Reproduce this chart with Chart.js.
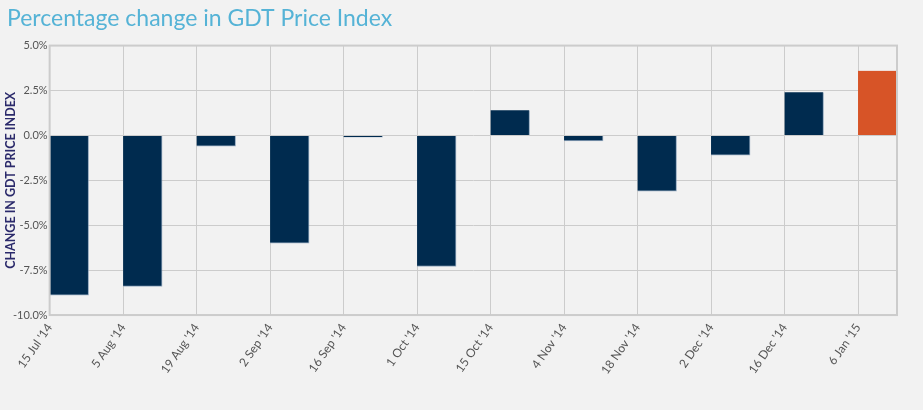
<!DOCTYPE html>
<html>
<head>
<meta charset="utf-8">
<script src="https://cdn.jsdelivr.net/npm/chart.js@4"></script>
<style>
  html, body { margin: 0; padding: 0; background: #f2f2f2; }
  #wrap { width: 923px; height: 410px; }
</style>
</head>
<body>
<div id="wrap"><canvas id="gdtChart" width="923" height="410"></canvas></div>
<script>
// GDT auction dates
var dates = ["15 Jul '14", "5 Aug '14", "19 Aug '14", "2 Sep '14", "16 Sep '14", "1 Oct '14",
             "15 Oct '14", "4 Nov '14", "18 Nov '14", "2 Dec '14", "16 Dec '14", "6 Jan '15"];
// % change in price index
var changes = [-8.9, -8.4, -0.6, -6.0, -0.1, -7.3, 1.4, -0.3, -3.1, -1.1, 2.4, 3.6];
var yTicks = [-10, -7.5, -5, -2.5, 0, 2.5, 5];

var navy = '#002b4f';
var orange = '#d75427';
var barShift = 0.265; // bars sit right of the grid line

var points = changes.map(function(v, i) { return { x: i + barShift, y: v }; });
var colors = changes.map(function(v, i) { return i === changes.length - 1 ? orange : navy; });

// frame around plot area
var frame = {
    id: 'frame',
    afterDatasetsDraw: function(chart) {
        var a = chart.chartArea;
        var c = chart.ctx;
        c.save();
        c.strokeStyle = '#cccccc';
        c.lineWidth = 2;
        c.strokeRect(a.left, a.top, a.right - a.left, a.bottom - a.top);
        c.restore();
    }
};

var ctx = document.getElementById('gdtChart').getContext('2d');
var chart = new Chart(ctx, {
    type: 'bar',
    data: {
        datasets: [{
            data: points,
            backgroundColor: colors,
            borderColor: 'rgba(110,140,170,0.7)',
            borderWidth: { right: 1, bottom: 1, top: 0, left: 0 },
            barThickness: 39
        }]
    },
    plugins: [frame],
    options: {
        responsive: false,
        animation: false,
        events: [],
        layout: { padding: { left: 7, right: 26, top: 0, bottom: 27 } },
        scales: {
            x: {
                type: 'linear',
                min: 0,
                max: 11.53,
                offset: false,
                afterBuildTicks: function(axis) {
                    axis.ticks = dates.map(function(d, i) { return { value: i }; });
                },
                ticks: {
                    callback: function(v) { return dates[v]; },
                    minRotation: 55,
                    maxRotation: 55,
                    color: '#555555',
                    font: { family: 'Lato', size: 12 },
                    padding: 6
                },
                grid: { color: '#cccccc', drawTicks: false, offset: false },
                border: { display: false }
            },
            y: {
                min: -10,
                max: 5,
                afterBuildTicks: function(axis) {
                    axis.ticks = yTicks.map(function(v) { return { value: v }; });
                },
                ticks: {
                    callback: function(v) { return v.toFixed(1) + '%'; },
                    color: '#555555',
                    font: { family: 'Lato', size: 11 },
                    padding: 2
                },
                grid: { color: '#cccccc', drawTicks: false },
                border: { display: false },
                title: {
                    display: true,
                    text: 'CHANGE IN GDT PRICE INDEX',
                    color: '#2b2a6b',
                    font: { family: 'Lato', size: 12.5, weight: 'bold' },
                    padding: { top: -4, bottom: -7 }
                }
            }
        },
        plugins: {
            legend: { display: false },
            tooltip: { enabled: false },
            title: {
                display: true,
                text: 'Percentage change in GDT Price Index',
                align: 'start',
                color: '#55b3d6',
                font: { family: 'Lato', size: 23, weight: 'normal' },
                padding: { top: 5, bottom: 13 }
            }
        }
    }
});
</script>
</body>
</html>
